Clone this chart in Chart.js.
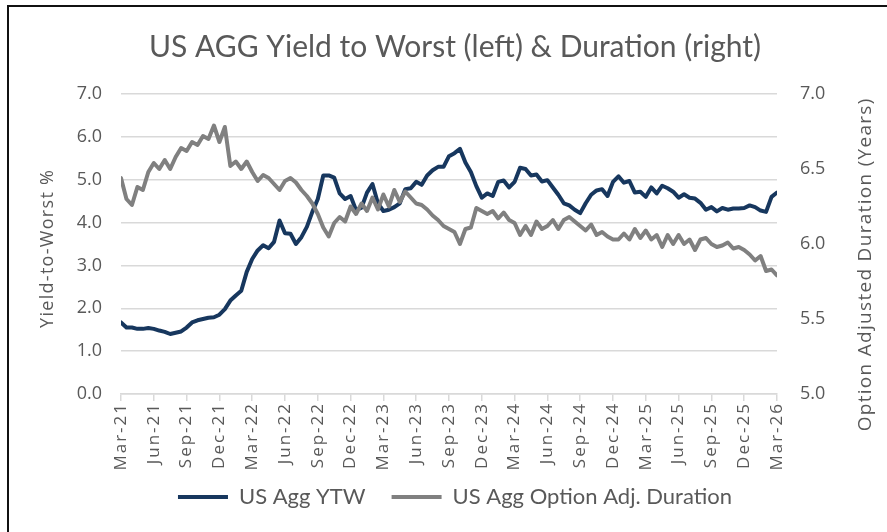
<!DOCTYPE html>
<html>
<head>
<meta charset="utf-8">
<script src="https://cdn.jsdelivr.net/npm/chart.js@4.4.1/dist/chart.umd.min.js"></script>
<style>
  html, body { margin: 0; padding: 0; background: #fff; }
  #wrap { position: relative; width: 887px; height: 532px; overflow: hidden; }
  #frame { position: absolute; left: 7px; top: 5px; width: 900px; height: 540px;
           border-left: 2px solid #111; border-top: 2px solid #111; pointer-events: none; }
</style>
</head>
<body>
<div id="wrap">
  <canvas id="chart" width="887" height="532"></canvas>
  <div id="frame"></div>
</div>
<script>
// quarterly tick labels, one every 3 months starting Mar-21
const tickLabels = ['Mar-21', 'Jun-21', 'Sep-21', 'Dec-21', 'Mar-22', 'Jun-22', 'Sep-22', 'Dec-22',
  'Mar-23', 'Jun-23', 'Sep-23', 'Dec-23', 'Mar-24', 'Jun-24', 'Sep-24', 'Dec-24',
  'Mar-25', 'Jun-25', 'Sep-25', 'Dec-25', 'Mar-26'];

// readings every half month from Mar-21 to Mar-26
const ytw = [
  1.67, 1.55, 1.55, 1.52, 1.52, 1.54, 1.52, 1.48, 1.45, 1.40,
  1.43, 1.46, 1.55, 1.67, 1.72, 1.75, 1.78, 1.79, 1.85, 1.98,
  2.18, 2.30, 2.41, 2.85, 3.15, 3.35, 3.47, 3.40, 3.55, 4.05,
  3.75, 3.74, 3.50, 3.66, 3.90, 4.25, 4.55, 5.10, 5.10, 5.05,
  4.68, 4.55, 4.62, 4.29, 4.35, 4.70, 4.90, 4.45, 4.27, 4.30,
  4.36, 4.45, 4.78, 4.80, 4.95, 4.88, 5.10, 5.22, 5.30, 5.30,
  5.55, 5.62, 5.72, 5.40, 5.18, 4.85, 4.58, 4.68, 4.62, 4.95,
  4.98, 4.82, 4.95, 5.28, 5.25, 5.10, 5.12, 4.96, 4.99, 4.82,
  4.65, 4.45, 4.40, 4.30, 4.22, 4.45, 4.65, 4.75, 4.78, 4.62,
  4.95, 5.08, 4.93, 4.97, 4.70, 4.72, 4.60, 4.82, 4.68, 4.86,
  4.80, 4.72, 4.58, 4.66, 4.58, 4.56, 4.46, 4.30, 4.36, 4.26,
  4.34, 4.30, 4.33, 4.33, 4.34, 4.40, 4.36, 4.28, 4.25, 4.60,
  4.70
];

const duration = [
  6.44, 6.30, 6.26, 6.38, 6.36, 6.48, 6.54, 6.50, 6.56, 6.50,
  6.58, 6.64, 6.62, 6.68, 6.66, 6.72, 6.70, 6.79, 6.68, 6.78,
  6.52, 6.55, 6.50, 6.55, 6.48, 6.42, 6.46, 6.44, 6.40, 6.36,
  6.42, 6.44, 6.41, 6.36, 6.32, 6.27, 6.20, 6.11, 6.05, 6.14,
  6.18, 6.15, 6.25, 6.20, 6.27, 6.22, 6.31, 6.23, 6.33, 6.25,
  6.36, 6.28, 6.35, 6.31, 6.27, 6.26, 6.23, 6.19, 6.16, 6.12,
  6.10, 6.08, 6.00, 6.10, 6.11, 6.24, 6.22, 6.20, 6.22, 6.17,
  6.21, 6.16, 6.14, 6.06, 6.12, 6.06, 6.15, 6.10, 6.12, 6.16,
  6.10, 6.16, 6.18, 6.15, 6.12, 6.09, 6.13, 6.06, 6.08, 6.05,
  6.03, 6.03, 6.07, 6.03, 6.10, 6.04, 6.09, 6.03, 6.06, 5.98,
  6.06, 6.00, 6.06, 6.00, 6.03, 5.96, 6.03, 6.04, 6.00, 5.98,
  5.99, 6.01, 5.97, 5.98, 5.96, 5.93, 5.89, 5.92, 5.82, 5.83,
  5.79
];

const NAVY = '#17375E';
const GRAY = '#808080';
const TEXT = '#595959';
const GRID = '#D9D9D9';

const toPoints = arr => arr.map((v, i) => ({ x: i / 2, y: v }));

// vertical text reading bottom to top, with excel-like letter spacing.
// anchor 'center' centres the text on y, 'end' puts the last letter at y
function drawUpText(ctx, text, x, y, font, spacing, anchor) {
  ctx.save();
  ctx.font = font;
  ctx.fillStyle = TEXT;
  ctx.textAlign = 'left';
  ctx.textBaseline = 'middle';
  const widths = [...text].map(ch => ctx.measureText(ch).width);
  const total = widths.reduce((a, b) => a + b, 0) + spacing * (widths.length - 1);
  ctx.translate(x, y);
  ctx.rotate(-Math.PI / 2);
  let pos = anchor === 'end' ? -total : -total / 2;
  [...text].forEach((ch, i) => {
    ctx.fillText(ch, pos, 0);
    pos += widths[i] + spacing;
  });
  ctx.restore();
}

const axisText = {
  id: 'axisText',
  afterDraw(chart) {
    const ctx = chart.ctx;
    const area = chart.chartArea;
    const xs = chart.scales.x;
    tickLabels.forEach((t, i) => {
      drawUpText(ctx, t, xs.getPixelForValue(i * 3), area.bottom + 10, '17px "Open Sans", sans-serif', 2, 'end');
    });
    drawUpText(ctx, 'Yield-to-Worst %', 48, (area.top + area.bottom) / 2 + 5, '18px "Open Sans", sans-serif', 1.3, 'center');
    drawUpText(ctx, 'Option Adjusted Duration (Years)', 866, (area.top + area.bottom) / 2 + 21, '19px "Open Sans", sans-serif', 1.3, 'center');
  }
};

new Chart(document.getElementById('chart'), {
  type: 'line',
  data: {
    datasets: [{
      label: 'US Agg YTW',
      data: toPoints(ytw),
      borderColor: NAVY,
      backgroundColor: NAVY,
      borderWidth: 4,
      pointRadius: 0,
      yAxisID: 'y',
      order: 1
    }, {
      label: 'US Agg Option Adj. Duration',
      data: toPoints(duration),
      borderColor: GRAY,
      backgroundColor: GRAY,
      borderWidth: 4,
      pointRadius: 0,
      yAxisID: 'y1',
      order: 0
    }]
  },
  options: {
    responsive: false,
    animation: false,
    layout: { padding: { left: 23, right: 0, top: 0, bottom: 14 } },
    elements: { line: { borderJoinStyle: 'round', borderCapStyle: 'round', tension: 0 } },
    scales: {
      x: {
        type: 'linear',
        min: 0,
        max: 60,
        afterBuildTicks: s => { s.ticks = tickLabels.map((t, i) => ({ value: i * 3 })); },
        afterFit: s => { s.height = 66; },
        ticks: {
          autoSkip: false,
          minRotation: 90,
          maxRotation: 90,
          color: 'rgba(0,0,0,0)',
          font: { family: 'Open Sans', size: 17 },
          callback: v => tickLabels[Math.round(v / 3)]
        },
        grid: { drawOnChartArea: false, drawTicks: true, tickLength: 7, color: GRID, lineWidth: 1.5 },
        border: { color: GRID, width: 1.5 }
      },
      y: {
        position: 'left',
        min: 0,
        max: 7,
        afterFit: s => { s.width = 98; },
        ticks: {
          stepSize: 1,
          padding: 19,
          color: TEXT,
          font: { family: 'Open Sans', size: 18 },
          callback: v => v.toFixed(1)
        },
        grid: { color: GRID, lineWidth: 1.5, drawTicks: false },
        border: { display: false }
      },
      y1: {
        position: 'right',
        min: 5,
        max: 7,
        afterFit: s => { s.width = 110; },
        ticks: {
          stepSize: 0.5,
          padding: 23,
          color: TEXT,
          font: { family: 'Open Sans', size: 18 },
          callback: v => v.toFixed(1)
        },
        grid: { drawOnChartArea: false, drawTicks: false },
        border: { display: false }
      }
    },
    plugins: {
      title: {
        display: true,
        text: 'US AGG Yield to Worst (left) & Duration (right)',
        color: TEXT,
        font: { family: 'Lato', size: 30, weight: 'normal' },
        padding: { top: 29, bottom: 29 }
      },
      legend: {
        position: 'bottom',
        labels: {
          boxWidth: 50,
          boxHeight: 4,
          padding: 26,
          color: TEXT,
          font: { family: 'Lato', size: 22 },
          sort: (a, b) => a.datasetIndex - b.datasetIndex,
          generateLabels: chart => {
            const items = Chart.defaults.plugins.legend.labels.generateLabels(chart);
            items.forEach(it => { it.lineWidth = 0; it.fillStyle = it.strokeStyle; });
            return items;
          }
        }
      },
      tooltip: { enabled: false }
    }
  },
  plugins: [axisText]
});
</script>
</body>
</html>
